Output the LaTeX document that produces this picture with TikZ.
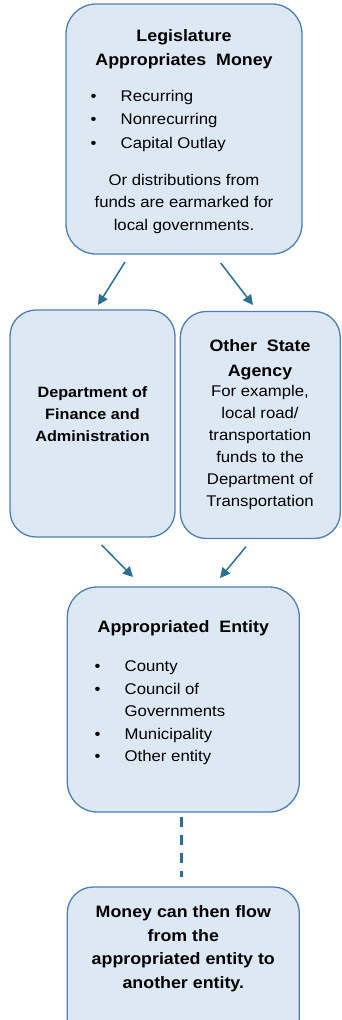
\documentclass[tikz,border=0pt]{standalone}
\usepackage{fontspec}
\setmainfont{Liberation Sans}[FakeStretch=1.08]
\usetikzlibrary{arrows.meta}
\definecolor{boxfill}{HTML}{DDE8F5}
\definecolor{boxline}{HTML}{4F7FB0}
\definecolor{arrcol}{HTML}{2E6E8E}
\newcommand{\bul}{\makebox[30pt][l]{\textbullet}}
\newcommand{\nob}{\makebox[30pt][l]{}}
\tikzset{
  box/.style={draw=boxline, fill=boxfill, line width=1.3pt, rectangle, inner sep=0pt},
  ttl/.style={font=\fontsize{16.5}{24.5}\selectfont\bfseries, align=center, anchor=base, inner sep=0pt},
  ttlsm/.style={font=\fontsize{15}{22}\selectfont\bfseries, align=center, anchor=base, inner sep=0pt},
  body/.style={font=\fontsize{15.5}{22.5}\selectfont, align=center, anchor=base, inner sep=0pt},
  blist/.style={font=\fontsize{15.5}{23.3}\selectfont, align=left, anchor=base west, inner sep=0pt},
  arr/.style={draw=arrcol, line width=1.5pt, -{Triangle[length=10pt,width=10pt]}},
  dsh/.style={draw=arrcol, line width=2.5pt, dash pattern=on 10pt off 8pt}
}
\begin{document}
\begin{tikzpicture}[x=1pt,y=-1pt]
\useasboundingbox (0,0) rectangle (341,1020);
\clip (0,0) rectangle (341,1020);
% boxes
\node[box, rounded corners=30pt, minimum width=236pt, minimum height=250pt] (leg) at (184,129) {};
\node[box, rounded corners=26pt, minimum width=165pt, minimum height=227pt] (dfa) at (92.5,423.5) {};
\node[box, rounded corners=26pt, minimum width=160pt, minimum height=227pt] (osa) at (260.3,425) {};
\node[box, rounded corners=30pt, minimum width=232pt, minimum height=225pt] (ent) at (183.3,699.5) {};
\node[box, rounded corners=26pt, minimum width=232pt, minimum height=200pt] (flow) at (183.3,987) {};
% texts box 1 (anchor = baseline of last line)
\node[ttl] (legT) at (184,65.5) {Legislature\\Appropriates~ Money};
\node[blist] (legB) at (90.5,148.1) {\bul Recurring\\\bul Nonrecurring\\\bul Capital Outlay};
\node[body] (legP) at (184,230) {Or distributions from\\funds are earmarked for\\local governments.};
% box 2
\node[ttlsm] (dfaT) at (92.5,441) {Department of\\Finance and\\Administration};
% box 3
\node[ttl] (osaT) at (260,376.2) {Other~ State\\Agency};
\node[body, font=\fontsize{15.5}{22}\selectfont] (osaP) at (260,506.7) {For example,\\local road/\\transportation\\funds to the\\Department of\\Transportation};
% box 4
\node[ttl] (entT) at (183.3,632.7) {Appropriated~ Entity};
\node[blist, font=\fontsize{15.5}{22.5}\selectfont] (entB) at (94.5,761.7) {\bul County\\\bul Council of\\\nob Governments\\\bul Municipality\\\bul Other entity};
% box 5
\node[ttl, font=\fontsize{16.5}{23.7}\selectfont\bfseries] (flowT) at (183.3,988.4) {Money can then flow\\from the\\appropriated entity to\\another entity.};
% connectors
\coordinate (a1s) at (125,262);
\coordinate (a1e) at (98,305);
\coordinate (a2s) at (220.7,263);
\coordinate (a2e) at (253,305);
\coordinate (a3s) at (101.7,545);
\coordinate (a3e) at (133,577);
\coordinate (a4s) at (246,546.7);
\coordinate (a4e) at (220,578);
\draw[arr] (a1s) -- (a1e);
\draw[arr] (a2s) -- (a2e);
\draw[arr] (a3s) -- (a3e);
\draw[arr] (a4s) -- (a4e);
\coordinate (d1) at (181.7,817);
\coordinate (d2) at (181.7,877);
\draw[dsh] (d1) -- (d2);
\end{tikzpicture}
\end{document}
